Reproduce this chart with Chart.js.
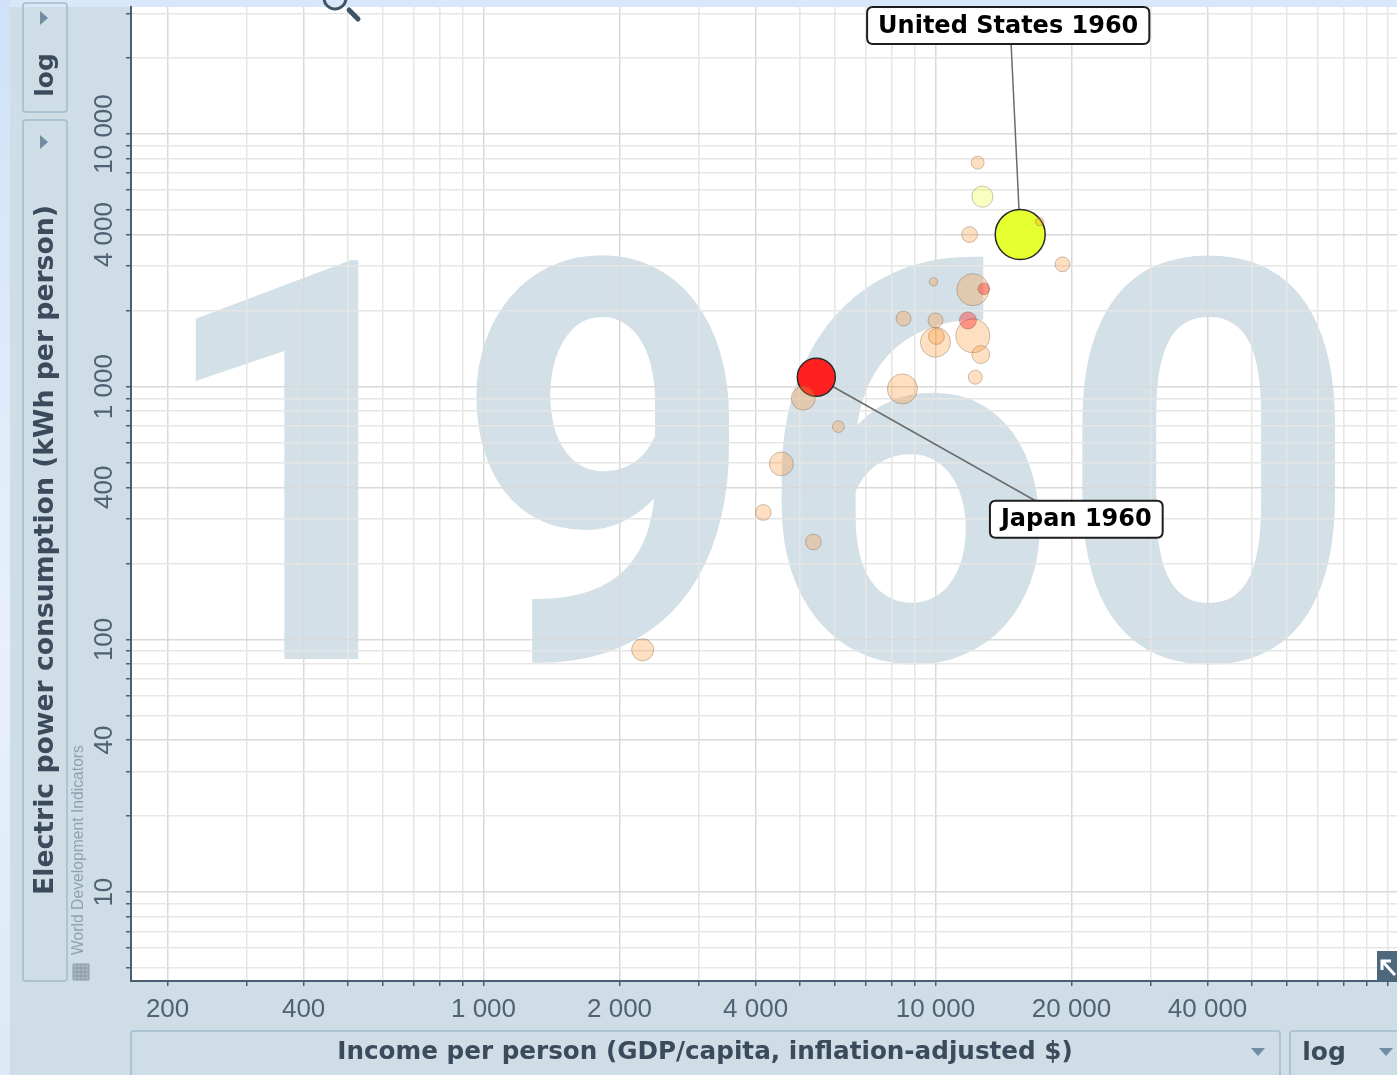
<!DOCTYPE html>
<html>
<head>
<meta charset="utf-8">
<script src="https://cdn.jsdelivr.net/npm/chart.js@4.4.1/dist/chart.umd.min.js"></script>
<style>
  html, body { margin: 0; padding: 0; background: #cfdde6; }
  #wrap { width: 1397px; height: 1075px; }
</style>
</head>
<body>
<div id="wrap"><canvas id="chart" width="1397" height="1075"></canvas></div>
<script>
// values (1960)
const year = "1960";
const names = [null, null, "United States", null, null, null, null, null, null, null, null, null, null,
  null, null, null, null, null, "Japan", null, null, null, null, null, null];
const incomes = [12400, 12700, 15400, 17000, 11900, 19100, 9900, 12100, 12800, 8500, 10000, 11800, 10000,
  10050, 12100, 12600, 12250, 8450, 5450, 5100, 6100, 4560, 4160, 5370, 2250];
const power = [7700, 5650, 4000, 4500, 4000, 3050, 2600, 2420, 2440, 1860, 1830, 1830, 1500,
  1580, 1590, 1340, 1090, 980, 1090, 900, 695, 495, 318, 243, 91];
const population = [12, 32, 180, 5, 18, 16, 5, 74, 10, 16, 16, 21, 65,
  18, 83, 23, 14, 65, 104, 41, 10, 41, 18, 18, 35];
const regions = ["eur", "amer", "amer", "eur", "eur", "eur", "eur", "eur", "asia", "eur", "eur", "asia", "eur",
  "eur", "eur", "eur", "eur", "eur", "asia", "eur", "eur", "eur", "eur", "eur", "eur"];

const xTickLabels = [200, 400, 1000, 2000, 4000, 10000, 20000, 40000];
const yTickLabels = [10, 40, 100, 400, 1000, 4000, 10000];
const xRange = [166, 105000];
const yRange = [4.45, 31800];

const xTitle = "Income per person (GDP/capita, inflation-adjusted $)";
const yTitle = "Electric power consumption (kWh per person)";
const source = "World Development Indicators";

const fadedFill = { eur: "rgba(255,150,50,0.30)", asia: "rgba(255,30,30,0.38)", amer: "rgba(230,255,50,0.30)" };
const solidFill = { eur: "#ff9933", asia: "#ff2020", amer: "#e6ff30" };

const SANS = '"Liberation Sans", Arial, sans-serif';
const GROTESK = 'Roboto, "Liberation Sans", sans-serif';
const WIDE = '"DejaVu Sans", Verdana, sans-serif';

function radiusFor(pop) {
  return 25 * Math.sqrt(pop / 180);
}

function fmt(v) {
  return String(v).replace(/\B(?=(\d{3})+(?!\d))/g, " ");
}

function logGrid(min, max) {
  const out = [];
  for (let e = Math.floor(Math.log10(min)); e <= Math.ceil(Math.log10(max)); e++) {
    for (let k = 1; k <= 9; k++) {
      const v = k * Math.pow(10, e);
      if (v >= min && v <= max) out.push(v);
    }
  }
  return out;
}

// bigger bubbles first so small ones stay visible
const points = incomes
  .map((x, i) => ({ x, y: power[i], r: radiusFor(population[i]), name: names[i], region: regions[i] }))
  .sort((a, b) => b.r - a.r);

const PANEL = "#cfdde6";
const BOX_EDGE = "#a3bbcb";
const INK = "#3b4b5b";
const TICK_INK = "#506273";
const AXIS = "#4a6072";

function roundRect(ctx, x, y, w, h, r) {
  ctx.beginPath();
  ctx.moveTo(x + r, y);
  ctx.lineTo(x + w - r, y);
  ctx.quadraticCurveTo(x + w, y, x + w, y + r);
  ctx.lineTo(x + w, y + h - r);
  ctx.quadraticCurveTo(x + w, y + h, x + w - r, y + h);
  ctx.lineTo(x + r, y + h);
  ctx.quadraticCurveTo(x, y + h, x, y + h - r);
  ctx.lineTo(x, y + r);
  ctx.quadraticCurveTo(x, y, x + r, y);
  ctx.closePath();
}

function triangle(ctx, cx, cy, dir) {
  ctx.fillStyle = "#6f8ca2";
  ctx.beginPath();
  if (dir === "down") {
    ctx.moveTo(cx - 7, cy - 4); ctx.lineTo(cx + 7, cy - 4); ctx.lineTo(cx, cy + 4);
  } else {
    ctx.moveTo(cx - 4, cy - 7); ctx.lineTo(cx - 4, cy + 7); ctx.lineTo(cx + 4, cy);
  }
  ctx.closePath();
  ctx.fill();
}

function fitFont(ctx, text, weight, family, target) {
  ctx.font = `${weight} 20px ${family}`;
  const w = ctx.measureText(text).width;
  return `${weight} ${(20 * target / w).toFixed(2)}px ${family}`;
}

function labelBox(ctx, text, cx, cy) {
  ctx.font = `bold 24px ${WIDE}`;
  const w = ctx.measureText(text).width + 22;
  const h = 37;
  roundRect(ctx, cx - w / 2, cy - h / 2, w, h, 6);
  ctx.fillStyle = "#ffffff";
  ctx.fill();
  ctx.lineWidth = 2;
  ctx.strokeStyle = "#1e1e1e";
  ctx.stroke();
  ctx.fillStyle = "#000000";
  ctx.textAlign = "center";
  ctx.textBaseline = "middle";
  ctx.fillText(text, cx, cy + 1);
}

// where each highlighted label sits, relative to its bubble
const labelOffsets = { "United States": { dx: -12, dy: -209 }, "Japan": { dx: 260, dy: 142 } };

function bubbleAt(chart, name) {
  const meta = chart.getDatasetMeta(0);
  const idx = points.findIndex((p) => p.name === name);
  return meta.data[idx];
}

const framePlugin = {
  id: "frame",
  beforeDraw(chart) {
    const { ctx, chartArea: a, width, height } = chart;
    ctx.save();
    ctx.fillStyle = PANEL;
    ctx.fillRect(0, 0, width, height);
    // slide background peeking at top and left
    ctx.fillStyle = "#d8e8fa";
    ctx.fillRect(0, 0, width, 7);
    const g = ctx.createLinearGradient(0, 0, 0, height);
    g.addColorStop(0, "#cfe2f8");
    g.addColorStop(0.6, "#e8f1fb");
    g.addColorStop(1, "#dde9f7");
    ctx.fillStyle = g;
    ctx.fillRect(0, 0, 10, height);
    // plot area
    ctx.fillStyle = "#ffffff";
    ctx.fillRect(a.left, a.top, a.right - a.left, a.bottom - a.top);
    // year watermark, a little narrower than the font's natural width
    ctx.beginPath();
    ctx.rect(a.left, a.top, a.right - a.left, a.bottom - a.top);
    ctx.clip();
    ctx.fillStyle = "#d3e0e7";
    ctx.translate(756, 659);
    ctx.scale(5.26, 5.6);
    ctx.font = `bold 100px ${GROTESK}`;
    ctx.textAlign = "center";
    ctx.textBaseline = "alphabetic";
    ctx.fillText(year, 0, 0);
    ctx.restore();
  },
  beforeDatasetsDraw(chart) {
    const { ctx } = chart;
    ctx.save();
    ctx.strokeStyle = "#6b6b6b";
    ctx.lineWidth = 1.5;
    Object.keys(labelOffsets).forEach((name) => {
      const b = bubbleAt(chart, name);
      const o = labelOffsets[name];
      const cx = b.x + o.dx, cy = b.y + o.dy;
      ctx.beginPath();
      if (o.dy < 0) {
        ctx.moveTo(cx + 2, cy);
      } else {
        ctx.moveTo(cx - 40, cy - 18);
      }
      ctx.lineTo(b.x, b.y);
      ctx.stroke();
    });
    ctx.restore();
  },
  afterDraw(chart) {
    const { ctx, chartArea: a, scales } = chart;
    ctx.save();

    // y tick labels, rotated
    ctx.fillStyle = TICK_INK;
    ctx.font = `26px ${SANS}`;
    ctx.textAlign = "center";
    ctx.textBaseline = "middle";
    yTickLabels.forEach((v) => {
      const y = scales.y.getPixelForValue(v);
      ctx.save();
      ctx.translate(105, y);
      ctx.rotate(-Math.PI / 2);
      ctx.fillText(fmt(v), 0, 0);
      ctx.restore();
    });

    // y axis controls
    ctx.lineWidth = 1.5;
    ctx.strokeStyle = BOX_EDGE;
    roundRect(ctx, 23, 3, 44, 109, 3);
    ctx.stroke();
    roundRect(ctx, 23, 120, 44, a.bottom - 120, 3);
    ctx.stroke();
    triangle(ctx, 44, 18, "right");
    triangle(ctx, 44, 142, "right");

    ctx.fillStyle = INK;
    ctx.save();
    ctx.translate(46, 75);
    ctx.rotate(-Math.PI / 2);
    ctx.font = `bold 25px ${WIDE}`;
    ctx.textAlign = "center";
    ctx.textBaseline = "middle";
    ctx.fillText("log", 0, 0);
    ctx.restore();

    ctx.save();
    ctx.translate(46, 550);
    ctx.rotate(-Math.PI / 2);
    ctx.font = fitFont(ctx, yTitle, "bold", WIDE, 690);
    ctx.textAlign = "center";
    ctx.textBaseline = "middle";
    ctx.fillText(yTitle, 0, 0);
    ctx.restore();

    // source note and table icon
    ctx.save();
    ctx.translate(79, 850);
    ctx.rotate(-Math.PI / 2);
    ctx.font = fitFont(ctx, source, "normal", SANS, 210);
    ctx.fillStyle = "#8ea2b2";
    ctx.textAlign = "center";
    ctx.textBaseline = "middle";
    ctx.fillText(source, 0, 0);
    ctx.restore();
    ctx.strokeStyle = "#8a9aa8";
    ctx.lineWidth = 1;
    ctx.fillStyle = "#aab6c0";
    ctx.fillRect(73, 964, 16, 16);
    for (let i = 0; i <= 4; i++) {
      ctx.beginPath(); ctx.moveTo(73, 964 + i * 4); ctx.lineTo(89, 964 + i * 4); ctx.stroke();
      ctx.beginPath(); ctx.moveTo(73 + i * 4, 964); ctx.lineTo(73 + i * 4, 980); ctx.stroke();
    }

    // x axis controls
    ctx.strokeStyle = BOX_EDGE;
    ctx.lineWidth = 1.5;
    roundRect(ctx, 131, 1031, 1149, 50, 3);
    ctx.stroke();
    roundRect(ctx, 1290, 1031, 120, 50, 3);
    ctx.stroke();
    triangle(ctx, 1258, 1052, "down");
    triangle(ctx, 1386, 1052, "down");
    ctx.fillStyle = INK;
    ctx.font = fitFont(ctx, xTitle, "bold", WIDE, 736);
    ctx.textAlign = "center";
    ctx.textBaseline = "middle";
    ctx.fillText(xTitle, 705, 1053);
    ctx.font = `bold 25px ${WIDE}`;
    ctx.fillText("log", 1324, 1053);

    // zoom icon at the top and resize corner
    ctx.strokeStyle = "#3e5366";
    ctx.lineWidth = 3;
    ctx.beginPath();
    ctx.arc(335, -2, 11, 0, Math.PI * 2);
    ctx.stroke();
    ctx.lineWidth = 5;
    ctx.lineCap = "round";
    ctx.beginPath();
    ctx.moveTo(349, 10);
    ctx.lineTo(358, 19);
    ctx.stroke();
    ctx.lineCap = "butt";
    ctx.fillStyle = "#4d687d";
    ctx.fillRect(1377, 951, 20, 30);
    ctx.strokeStyle = "#ffffff";
    ctx.lineWidth = 3;
    ctx.beginPath();
    ctx.moveTo(1395, 975); ctx.lineTo(1383, 962);
    ctx.moveTo(1382, 970); ctx.lineTo(1382, 961); ctx.lineTo(1391, 961);
    ctx.stroke();

    // highlighted country labels
    Object.keys(labelOffsets).forEach((name) => {
      const b = bubbleAt(chart, name);
      const o = labelOffsets[name];
      labelBox(ctx, `${name} ${year}`, b.x + o.dx, b.y + o.dy);
    });
    ctx.restore();
  }
};

const xGrid = logGrid(xRange[0], xRange[1]);
const yGrid = logGrid(yRange[0], yRange[1]);

new Chart(document.getElementById("chart"), {
  type: "bubble",
  data: {
    datasets: [{
      data: points,
      backgroundColor: points.map((p) => (p.name ? solidFill[p.region] : fadedFill[p.region])),
      borderColor: points.map((p) => (p.name ? "#2a2a2a" : "rgba(110,85,60,0.35)")),
      borderWidth: points.map((p) => (p.name ? 1.5 : 1)),
      hoverRadius: 0,
    }],
  },
  options: {
    responsive: false,
    animation: false,
    devicePixelRatio: 1,
    events: [],
    layout: { autoPadding: false, padding: { top: 7, left: 0, right: 0, bottom: 0 } },
    plugins: { legend: { display: false }, tooltip: { enabled: false } },
    scales: {
      x: {
        type: "logarithmic",
        min: xRange[0],
        max: xRange[1],
        afterBuildTicks: (s) => { s.ticks = xGrid.map((v) => ({ value: v })); },
        afterFit: (s) => { s.height = 94; },
        border: { display: true, color: AXIS, width: 2 },
        grid: {
          color: (c) => (xTickLabels.includes(c.tick && c.tick.value) ? "#d9d9d9" : "#e6e6e6"),
          lineWidth: 1.5,
          tickColor: AXIS,
          tickLength: 5,
          tickWidth: 1.5,
        },
        ticks: {
          autoSkip: false,
          maxRotation: 0,
          padding: 8,
          color: TICK_INK,
          font: { family: SANS, size: 26 },
          callback: (v) => (xTickLabels.includes(v) ? fmt(v) : ""),
        },
      },
      y: {
        type: "logarithmic",
        min: yRange[0],
        max: yRange[1],
        afterBuildTicks: (s) => { s.ticks = yGrid.map((v) => ({ value: v })); },
        afterFit: (s) => { s.width = 131; },
        border: { display: true, color: AXIS, width: 2 },
        grid: {
          color: (c) => (yTickLabels.includes(c.tick && c.tick.value) ? "#d9d9d9" : "#e6e6e6"),
          lineWidth: 1.5,
          tickColor: AXIS,
          tickLength: 5,
          tickWidth: 1.5,
        },
        ticks: { display: false },
      },
    },
  },
  plugins: [framePlugin],
});
</script>
</body>
</html>
